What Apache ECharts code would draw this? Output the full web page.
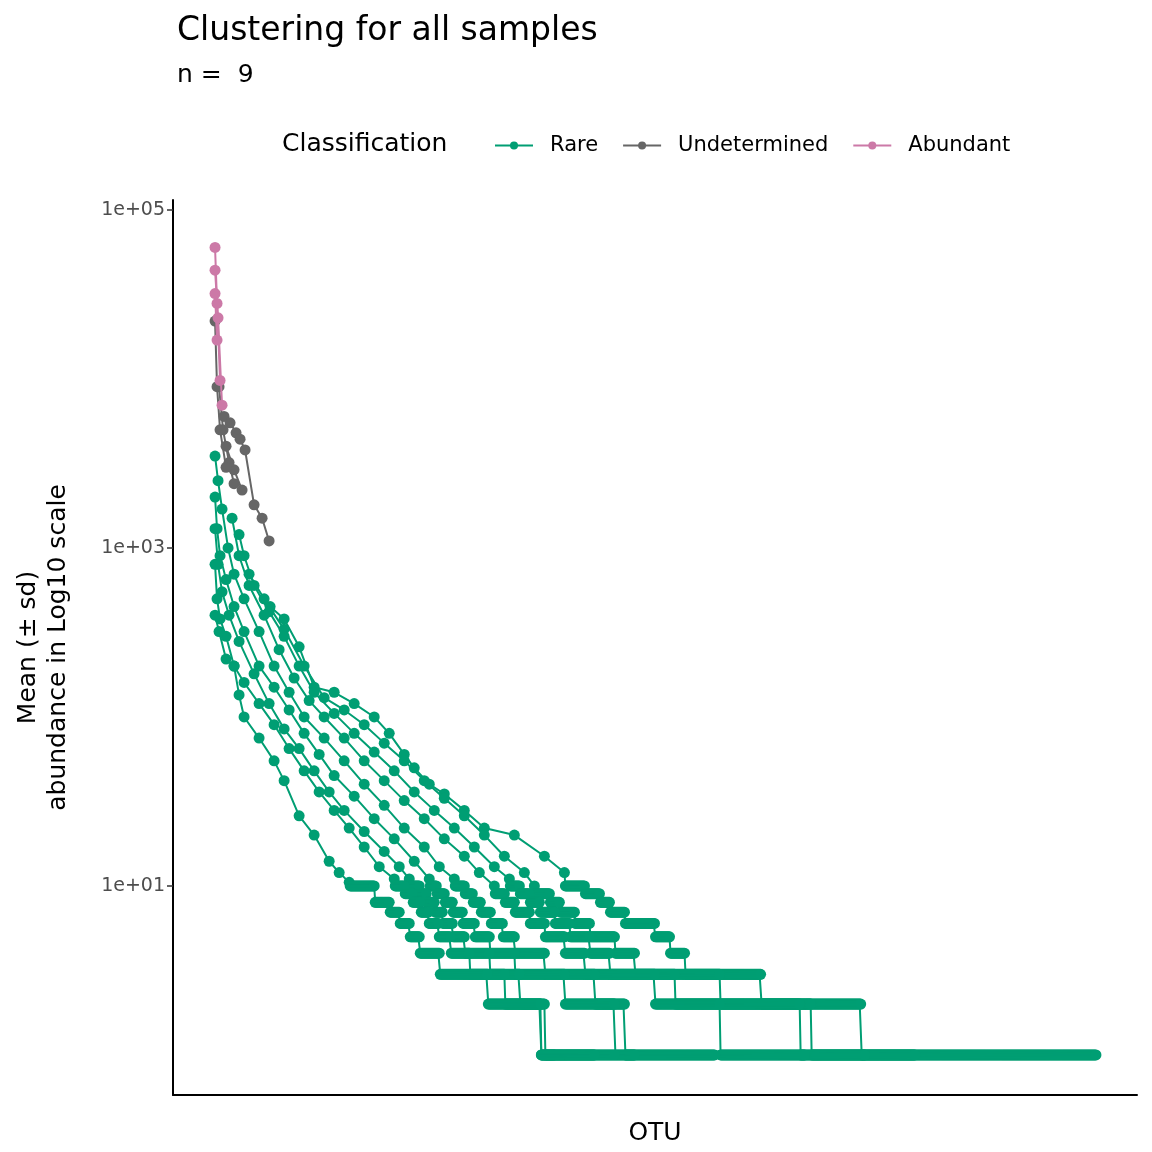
<!DOCTYPE html>
<html>
<head>
<meta charset="utf-8">
<script src="https://cdn.jsdelivr.net/npm/echarts@6/dist/echarts.min.js"></script>
<style>html,body{margin:0;padding:0;background:#fff}#chart{width:1152px;height:1152px}</style>
</head>
<body>
<div id="chart"></div>
<script>
// Rank-abundance curves, one per sample. Points: [rank, mean abundance].
// Classes: [number of Abundant points, number of Undetermined points], rest are Rare.
// Plateaus: [abundance, last rank] run-lengths after the listed points.
const c1Points = [[1,60000],[3,28000],[6,9800],[10,6000],[16,5500],[22,4800],[26,4400],[31,3800],[40,1800],[48,1500],[55,1100],
  [56,450],[70,380],[85,260],[100,150],[120,140],[140,120],[160,100],[175,80],[190,60],[200,50],[215,40],[230,35],[250,28],[270,22],[300,20],[330,15],[350,12]];
const c1Classes = [3, 8];
const c1Plateaus = [[10,370],[9,385],[8,395],[7,410],[6,440],[5,455],[4,470],[3,546],[2,646],[1,881]];

const c2Points = [[1,44000],[4,23000],[8,7000],[12,4000],[20,2900],[28,2200],
  [35,700],[50,500],[70,330],[90,200],[110,130],[130,110],[150,90],[170,70],[190,55],[210,42],[230,33],[250,26],[270,20],[290,15],[310,12],[320,10]];
const c2Classes = [3, 3];
const c2Plateaus = [[9,335],[8,345],[7,360],[6,375],[5,400],[4,420],[3,505],[2,596],[1,700]];

const c3Points = [[1,32000],[3,17000],[5,9000],[9,5000],[15,3200],[20,2400],
  [25,1200],[30,900],[40,600],[55,420],[70,300],[85,200],[100,140],[120,105],[140,80],[160,62],[180,48],[200,36],[220,28],[240,22],[260,17],[280,13],[295,11]];
const c3Classes = [2, 4];
const c3Plateaus = [[10,305],[9,315],[8,325],[7,340],[6,355],[5,375],[4,395],[3,460],[2,585],[1,650]];

const c4Points = [[1,22000],[3,9000],[6,5000],[12,3000],
  [18,1500],[25,900],[35,600],[50,400],[65,250],[80,170],[95,125],[110,100],[130,75],[150,55],[170,42],[190,32],[210,25],[230,19],[250,15],[265,12],[280,10]];
const c4Classes = [0, 4];
const c4Plateaus = [[9,290],[8,300],[7,315],[6,330],[5,350],[4,370],[3,440],[2,505],[1,590]];

const c5Points = [[1,3500],[4,2500],[8,1700],[14,1000],[20,700],[30,500],[45,320],[60,200],[75,140],[90,100],[110,75],[130,55],[150,40],[170,30],[190,22],[210,17],[225,13],[240,11]];
const c5Classes = [0, 0];
const c5Plateaus = [[10,250],[9,258],[8,266],[7,276],[6,288],[5,300],[4,330],[3,380],[2,410],[1,500]];

const c6Points = [[1,2000],[3,1300],[6,900],[12,650],[20,450],[30,320],[45,200],[60,150],[75,110],[90,80],[105,60],[120,45],[140,34],[160,25],[180,19],[200,14],[215,11]];
const c6Classes = [0, 0];
const c6Plateaus = [[10,222],[9,230],[8,238],[7,248],[6,260],[5,275],[4,300],[3,350],[2,400],[1,420]];

const c7Points = [[1,1300],[4,800],[8,550],[15,400],[25,280],[40,180],[55,120],[70,85],[85,65],[100,48],[115,36],[130,28],[150,21],[170,16],[185,13],[195,11]];
const c7Classes = [0, 0];
const c7Plateaus = [[10,205],[9,212],[8,220],[7,228],[6,238],[5,250],[4,275],[3,305],[2,330],[1,400]];

const c8Points = [[1,800],[3,500],[6,380],[12,300],[20,200],[30,160],[45,120],[60,90],[75,65],[90,48],[105,36],[120,28],[135,22],[150,17],[165,13],[180,11]];
const c8Classes = [0, 0];
const c8Plateaus = [[10,190],[9,198],[8,206],[7,214],[6,224],[5,236],[4,255],[3,290],[2,326],[1,340]];

const c9Points = [[1,400],[5,320],[12,220],[20,200],[25,135],[30,100],[45,75],[60,55],[70,42],[85,26],[100,20],[115,14],[125,12],[135,10.5]];
const c9Classes = [0, 0];
const c9Plateaus = [[10,160],[8,175],[7,185],[6,195],[5,205],[4,225],[3,273],[2,326],[1,380]];

const classNames = ["Rare", "Undetermined", "Abundant"];
const classColors = { Rare: "#009E73", Undetermined: "#666666", Abundant: "#CC79A7" };

const curves = [
  [c1Points, c1Classes, c1Plateaus], [c2Points, c2Classes, c2Plateaus], [c3Points, c3Classes, c3Plateaus],
  [c4Points, c4Classes, c4Plateaus], [c5Points, c5Classes, c5Plateaus], [c6Points, c6Classes, c6Plateaus],
  [c7Points, c7Classes, c7Plateaus], [c8Points, c8Classes, c8Plateaus], [c9Points, c9Classes, c9Plateaus],
];

const lg = (v) => Math.log10(v);

function makeSeries(name, data, z) {
  return {
    name: name, type: "line", data: data, color: classColors[name], z: z,
    symbol: "circle", symbolSize: 11, lineStyle: { width: 2 }, animation: false,
  };
}

const rareSeries = [], undetSeries = [], abundSeries = [];
curves.forEach(([pts, cls, plats]) => {
  const a = cls[0], u = cls[1];
  const ab = pts.slice(0, a).map((p) => [p[0], lg(p[1])]);
  const un = pts.slice(a, a + u).map((p) => [p[0], lg(p[1])]);
  const ra = pts.slice(a + u).map((p) => [p[0], lg(p[1])]);
  // expand plateau run-lengths: one OTU per rank
  let r = pts[pts.length - 1][0];
  plats.forEach(([v, end]) => {
    for (r = r + 1; r <= end; r++) ra.push([r, lg(v)]);
    r = end;
  });
  if (ra.length) rareSeries.push(makeSeries("Rare", ra, 2));
  if (un.length) undetSeries.push(makeSeries("Undetermined", un, 3));
  if (ab.length) abundSeries.push(makeSeries("Abundant", ab, 4));
});

const chart = echarts.init(document.getElementById("chart"));
chart.setOption({
  animation: false,
  title: [
    { text: "Clustering for all samples", left: 172, top: 10, textStyle: { fontFamily: "DejaVu Sans", fontWeight: "normal", fontSize: 33, color: "#000" } },
    { text: "n =  9", left: 172, top: 58, textStyle: { fontFamily: "DejaVu Sans", fontWeight: "normal", fontSize: 25, color: "#000" } },
    { text: "Classification", left: 277, top: 127, textStyle: { fontFamily: "DejaVu Sans", fontWeight: "normal", fontSize: 25, color: "#000" } },
  ],
  legend: {
    data: classNames, left: 489, top: 130, itemWidth: 38, itemHeight: 10, itemGap: 24,
    textStyle: { fontFamily: "DejaVu Sans", fontSize: 21, color: "#000", padding: [0, 0, 0, 12] },
  },
  grid: { left: 173, right: 15, top: 200, bottom: 57 },
  xAxis: {
    type: "value", min: -41, max: 922,
    name: "OTU", nameLocation: "middle", nameGap: 26,
    nameTextStyle: { fontFamily: "DejaVu Sans", fontSize: 25, color: "#000" },
    axisLine: { onZero: false, lineStyle: { color: "#000", width: 2 } },
    axisTick: { show: false }, axisLabel: { show: false }, splitLine: { show: false },
  },
  yAxis: {
    type: "value", min: -0.237, max: 5.059,
    name: "Mean (± sd)\nabundance in Log10 scale", nameLocation: "middle", nameGap: 100,
    nameTextStyle: { fontFamily: "DejaVu Sans", fontSize: 25, color: "#000", lineHeight: 30 },
    axisLine: { show: true, onZero: false, lineStyle: { color: "#000", width: 2 } },
    axisTick: { show: true, length: 6, customValues: [1, 3, 5], lineStyle: { color: "#333", width: 1.5 } },
    axisLabel: {
      customValues: [1, 3, 5], fontFamily: "DejaVu Sans", fontSize: 19, color: "#4d4d4d", margin: 8,
      formatter: (v) => "1e+0" + Math.round(v),
    },
    splitLine: { show: false },
  },
  series: rareSeries.concat(undetSeries, abundSeries),
});
</script>
</body>
</html>
